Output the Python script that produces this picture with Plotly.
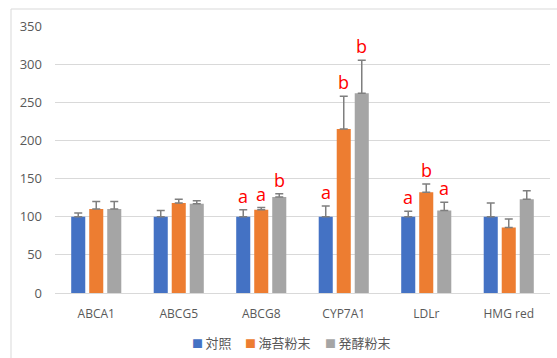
import plotly.graph_objects as go

# Gene expression (relative to control = 100)
genes = ["ABCA1", "ABCG5", "ABCG8", "CYP7A1", "LDLr", "HMG red"]
series_names = ["対照", "海苔粉末", "発酵粉末"]

control = [100, 100, 100, 100, 100, 100]
nori = [110, 118, 109, 215, 132, 86]
fermented = [110, 117, 126, 262, 108, 123]

control_err = [5, 8, 9, 14, 7, 18]
nori_err = [10, 5, 3, 43, 11, 11]
fermented_err = [10, 4, 4, 43, 11, 11]

# Significance letters per gene (empty = none)
control_sig = ["", "", "a", "a", "a", ""]
nori_sig = ["", "", "a", "b", "b", ""]
fermented_sig = ["", "", "b", "b", "a", ""]

colors = ["#4472C4", "#ED7D31", "#A5A5A5"]

values = [control, nori, fermented]
errors = [control_err, nori_err, fermented_err]
sigs = [control_sig, nori_sig, fermented_sig]

W, H = 557, 358
margin = dict(l=55, r=7, t=26, b=65)
bargap = 0.345
bargroupgap = 0.22
plot_w = W - margin["l"] - margin["r"]
plot_h = H - margin["t"] - margin["b"]

fig = go.Figure()
for name, vals, errs, col in zip(series_names, values, errors, colors):
    fig.add_trace(go.Bar(
        x=genes, y=vals, name=name,
        marker=dict(color=col, line=dict(width=0)),
        error_y=dict(type="data", array=errs, symmetric=False,
                     arrayminus=[0] * len(errs),
                     color="#7F7F7F", thickness=1.5, width=4),
    ))

# Letters above each error bar, shifted to the bar's slot in the group
slot = plot_w / len(genes) * (1 - bargap) / len(series_names)
annotations = []
for i, (vals, errs, sig) in enumerate(zip(values, errors, sigs)):
    for g, v, e, s in zip(genes, vals, errs, sig):
        if not s:
            continue
        annotations.append(dict(
            x=g, y=v + e, xref="x", yref="y", text=s, showarrow=False,
            xshift=(i - 1) * slot, yanchor="bottom", yshift=0,
            font=dict(color="#FF0000", size=18, family="Open Sans"),
        ))

# Legend row under the axis: a coloured square followed by each series name
legend_x = [190, 243, 323]  # left edge of each entry, in pixels
for name, col, px in zip(series_names, colors, legend_x):
    annotations.append(dict(
        x=(px - margin["l"]) / plot_w, y=-49 / plot_h, xref="paper", yref="paper",
        xanchor="left", yanchor="middle", showarrow=False,
        text=f"<span style='color:{col};font-size:11px'>■</span>\u2009{name}",
        font=dict(size=13, color="#595959", family="Noto Sans CJK JP"),
    ))

fig.update_layout(
    width=W, height=H, margin=margin,
    paper_bgcolor="white", plot_bgcolor="white",
    barmode="group", bargap=bargap, bargroupgap=bargroupgap,
    font=dict(family="Open Sans, Noto Sans CJK JP", color="#595959", size=12),
    showlegend=False,
    annotations=annotations,
    shapes=[dict(type="rect", xref="paper", yref="paper",
                 x0=(11 - margin["l"]) / plot_w, x1=1.2,
                 y0=-0.4, y1=(plot_h + margin["t"] - 9) / plot_h,
                 line=dict(color="#D9D9D9", width=1), layer="below")],
)
fig.update_xaxes(showline=True, linecolor="#D9D9D9", linewidth=1,
                 ticks="", tickfont=dict(size=12, color="#595959"),
                 ticklabelstandoff=10, automargin=False)
fig.update_yaxes(range=[0, 350], dtick=50, showgrid=True, gridcolor="#D9D9D9",
                 gridwidth=1, zeroline=False, showline=False, automargin=False,
                 tickfont=dict(size=13, color="#595959"), ticklabelstandoff=12)

fig.write_html("out.html")
